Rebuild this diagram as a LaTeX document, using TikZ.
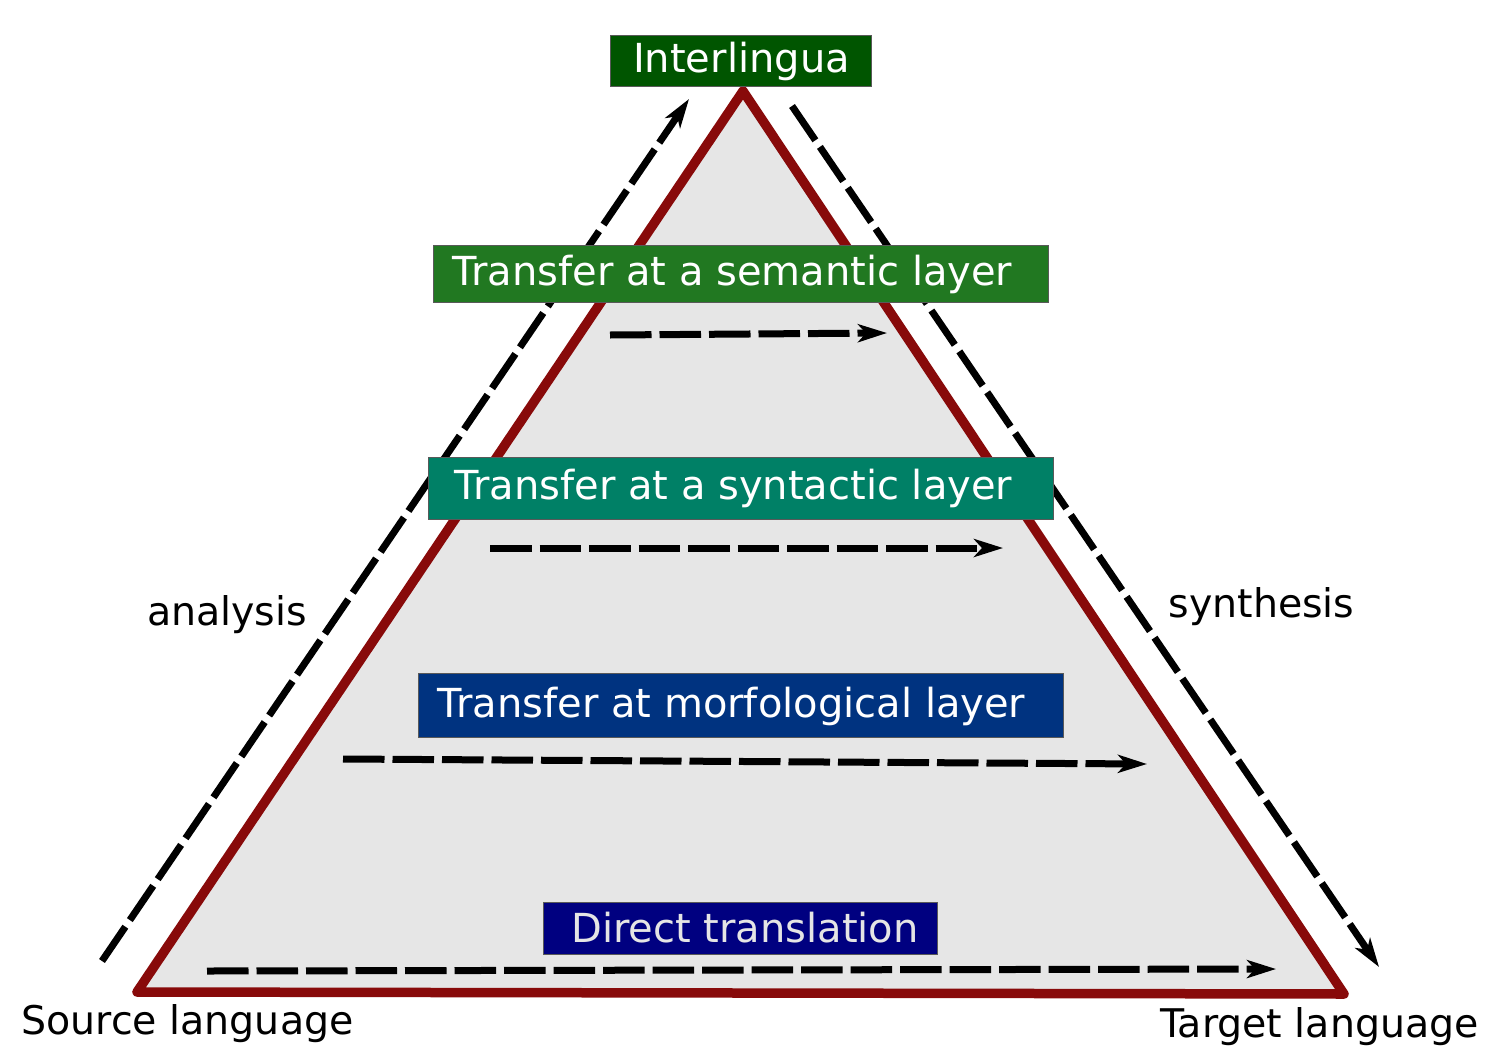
\documentclass[tikz,border=0pt]{standalone}
\usepackage{fontspec}
\setmainfont{DejaVu Sans}
\usetikzlibrary{arrows.meta}
\definecolor{tri}{RGB}{136,10,10}
\definecolor{trifill}{RGB}{230,230,230}
\definecolor{cInter}{RGB}{0,85,0}
\definecolor{cSem}{RGB}{33,120,33}
\definecolor{cSyn}{RGB}{0,128,102}
\definecolor{cMor}{RGB}{0,51,128}
\definecolor{cDir}{RGB}{0,0,128}
\tikzset{
  layerbox/.style={draw=black!65, line width=1pt, inner sep=0pt},
  boxtext/.style={text=white, font=\fontsize{40}{44}\selectfont, anchor=base, inner sep=0pt},
  plainlabel/.style={text=black, font=\fontsize{39.5}{44}\selectfont, anchor=base, inner sep=0pt},
  flow/.style={line width=7pt, dash pattern=on 41.5pt off 8pt, -{Stealth[length=29pt,width=18pt,inset=8pt]}},
  pyramid/.style={draw=tri, line width=9.5pt, fill=trifill, line join=round}
}
\begin{document}
\begin{tikzpicture}[x=1pt,y=-1pt]
\useasboundingbox (0,0) rectangle (1488,1052);
% triangle
\coordinate (apex) at (743,91);
\coordinate (srcC) at (137,992);
\coordinate (tgtC) at (1344,994);
\draw[pyramid] (srcC) -- (apex) -- (tgtC) -- cycle;
% analysis / synthesis arrows
\coordinate (anaS) at (102,961);
\coordinate (anaE) at (689,99);
\coordinate (synS) at (792,106);
\coordinate (synE) at (1379,967);
\draw[flow] (anaS) -- (anaE);
\draw[flow] (synS) -- (synE);
% horizontal transfer arrows
\coordinate (semS) at (610,335);
\coordinate (semE) at (887,333);
\coordinate (synhS) at (490,548);
\coordinate (synhE) at (1003,548);
\coordinate (morS) at (343,759);
\coordinate (morE) at (1147,764);
\coordinate (dirS) at (207,971);
\coordinate (dirE) at (1276,969);
\draw[flow] (semS) -- (semE);
\draw[flow] (synhS) -- (synhE);
\draw[flow] (morS) -- (morE);
\draw[flow] (dirS) -- (dirE);
% boxes
\node[layerbox, fill=cInter, minimum width=261pt, minimum height=51pt] (interbox) at (740.5,60.5) {};
\node[layerbox, fill=cSem, minimum width=615pt, minimum height=57pt] (sembox) at (740.5,273.5) {};
\node[layerbox, fill=cSyn, minimum width=625pt, minimum height=62pt] (synbox) at (740.5,488) {};
\node[layerbox, fill=cMor, minimum width=645pt, minimum height=64pt] (morbox) at (740.5,705) {};
\node[layerbox, fill=cDir, minimum width=394pt, minimum height=52pt] (dirbox) at (740.5,928) {};
% box texts
\node[boxtext] (intertext) at (741.5,72) {Interlingua};
\node[boxtext] (semtext) at (732.5,285) {Transfer at a semantic layer};
\node[boxtext] (syntext) at (733.5,499) {Transfer at a syntactic layer};
\node[boxtext] (mortext) at (731.5,717) {Transfer at morfological layer};
\node[boxtext, text=black!10] (dirtext) at (745,942) {Direct translation};
% plain labels
\node[plainlabel] (analysis) at (227,625) {analysis};
\node[plainlabel] (synthesis) at (1261.5,617) {synthesis};
\node[plainlabel] (source) at (187.5,1034) {Source language};
\node[plainlabel] (target) at (1319.5,1037) {Target language};
\end{tikzpicture}
\end{document}
